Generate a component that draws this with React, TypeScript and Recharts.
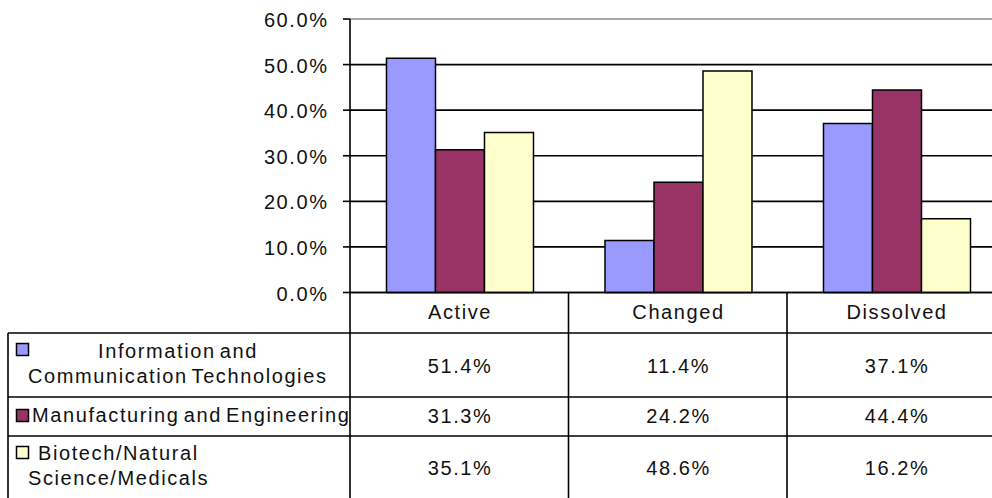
import React from "react";
import { BarChart, Bar, XAxis, YAxis, CartesianGrid, Customized } from "recharts";

const categories = ["Active", "Changed", "Dissolved"];
const seriesNames = [
  "Information and Communication Technologies",
  "Manufacturing and Engineering",
  "Biotech/Natural Science/Medicals",
];
const ictValues = [51.4, 11.4, 37.1];
const manufacturingValues = [31.3, 24.2, 44.4];
const biotechValues = [35.1, 48.6, 16.2];
const yTicks = [0, 10, 20, 30, 40, 50, 60];

const COLORS = ["#9999FF", "#993366", "#FFFFCC"];
const KEYS = ["ict", "man", "bio"];
const seriesValues = [ictValues, manufacturingValues, biotechValues];

const data = categories.map((c, i) => ({
  name: c,
  ict: ictValues[i],
  man: manufacturingValues[i],
  bio: biotechValues[i],
}));

const W = 1010;
const H = 520;
const PLOT_LEFT = 350;
const PLOT_TOP = 19;
const PLOT_BOTTOM = 292.5;
const PLOT_RIGHT = 1005.5;
const XAXIS_H = 41;
const BAND = (PLOT_RIGHT - PLOT_LEFT) / categories.length;
const TABLE_LEFT = 8;
const ROW_LINES = [333, 397, 436];
const FONT = "'Liberation Sans', Arial, sans-serif";
const FS = 20;
const LS = 1.6;
const LINE = "#000";
const LW = 1.6;

const fmt = (v: number) => v.toFixed(1) + "%";

const txt = {
  fontFamily: FONT,
  fontSize: FS,
  letterSpacing: LS,
  wordSpacing: -3,
  fill: "#111",
};

function YTick(props: any) {
  const { y, payload } = props;
  return (
    <g>
      <line x1={PLOT_LEFT - 7} x2={PLOT_LEFT} y1={y} y2={y} stroke={LINE} strokeWidth={LW} />
      <text x={PLOT_LEFT - 23 + LS} y={y + 8} textAnchor="end" style={txt}>
        {fmt(payload.value)}
      </text>
    </g>
  );
}

function XTick(props: any) {
  const { x, y, payload, index } = props;
  const rowBaselines = [80.5, 130.5, 182.5];
  return (
    <g>
      <text x={x + LS / 2} y={y + 26} textAnchor="middle" style={txt}>
        {payload.value}
      </text>
      {seriesValues.map((vals, si) => (
        <text
          key={si}
          x={x + LS / 2}
          y={y + rowBaselines[si]}
          textAnchor="middle"
          style={txt}
        >
          {fmt(vals[index])}
        </text>
      ))}
      <line x1={x + BAND / 2} x2={x + BAND / 2} y1={y} y2={H} stroke={LINE} strokeWidth={LW} />
    </g>
  );
}

function GridLine(props: any) {
  const { x1, x2, y1, y2 } = props;
  const top = Math.abs(y1 - PLOT_TOP) < 1;
  return (
    <line
      x1={x1}
      x2={x2}
      y1={y1}
      y2={y2}
      stroke={top ? "#8a8a8a" : LINE}
      strokeWidth={LW}
    />
  );
}

function Table() {
  const legendLines: { text: string; x: number; y: number }[][] = [
    [
      { text: "Information and", x: 98, y: 358 },
      { text: "Communication Technologies", x: 28, y: 383 },
    ],
    [{ text: "Manufacturing and Engineering", x: 32, y: 422 }],
    [
      { text: "Biotech/Natural", x: 38, y: 460 },
      { text: "Science/Medicals", x: 28, y: 485 },
    ],
  ];
  const keyY = [343, 409, 446];
  return (
    <g>
      {ROW_LINES.map((ry) => (
        <line key={ry} x1={TABLE_LEFT} x2={W} y1={ry} y2={ry} stroke={LINE} strokeWidth={LW} />
      ))}
      <line x1={TABLE_LEFT} x2={TABLE_LEFT} y1={ROW_LINES[0]} y2={H} stroke={LINE} strokeWidth={LW} />
      <line x1={PLOT_LEFT} x2={PLOT_LEFT} y1={PLOT_BOTTOM} y2={H} stroke={LINE} strokeWidth={LW} />
      {legendLines.map((lines, si) => (
        <g key={si}>
          {lines.map((l, li) => (
            <text key={li} x={l.x} y={l.y} style={txt}>
              {l.text}
            </text>
          ))}
          <rect x={16.5} y={keyY[si] + 0.5} width={12} height={12} fill={COLORS[si]} stroke="#000" strokeWidth={1.5} />
        </g>
      ))}
    </g>
  );
}

export default function App() {
  return (
    <div
      style={{
        position: "absolute",
        left: 0,
        top: 0,
        width: 992,
        height: 498,
        overflow: "hidden",
        background: "#fff",
      }}
    >
      <BarChart
        width={W}
        height={H}
        data={data}
        margin={{ top: PLOT_TOP, right: W - PLOT_RIGHT, left: 0, bottom: H - PLOT_BOTTOM - XAXIS_H }}
        barCategoryGap="16.7%"
        barGap={0}
      >
        <CartesianGrid horizontal={(p: any) => <GridLine key={p.key} {...p} />} vertical={false} />
        <YAxis
          width={PLOT_LEFT}
          domain={[0, 60]}
          ticks={yTicks}
          interval={0}
          axisLine={{ stroke: LINE, strokeWidth: LW }}
          tickLine={false}
          tick={<YTick />}
        />
        <XAxis
          dataKey="name"
          height={XAXIS_H}
          axisLine={{ stroke: LINE, strokeWidth: LW }}
          tickLine={false}
          tickSize={0}
          tickMargin={0}
          interval={0}
          tick={<XTick />}
        />
        {KEYS.map((k, i) => (
          <Bar
            key={k}
            dataKey={k}
            name={seriesNames[i]}
            fill={COLORS[i]}
            stroke="#000"
            strokeWidth={1.5}
            isAnimationActive={false}
          />
        ))}
        <Customized component={Table} />
      </BarChart>
    </div>
  );
}
